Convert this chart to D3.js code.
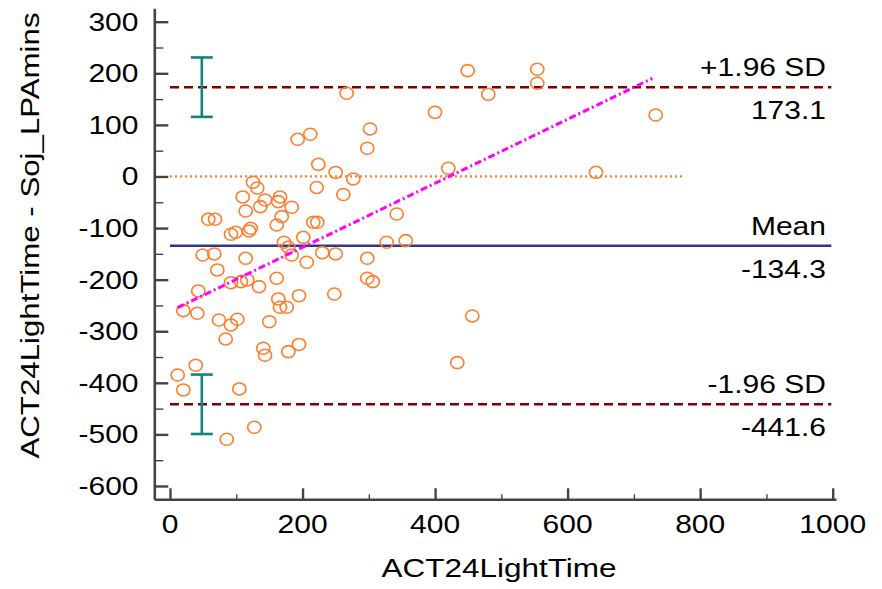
<!DOCTYPE html>
<html>
<head>
<meta charset="utf-8">
<script src="https://cdn.jsdelivr.net/npm/d3@7"></script>
<style>
body { margin: 0; background: #fff; }
svg text { font-family: "Liberation Sans", Arial, sans-serif; fill: #000; }
</style>
</head>
<body>
<svg width="882" height="589"></svg>
<script>
// ACT24LightTime (x) vs difference ACT24LightTime - Soj_LPAmins (y)
var xVals = [266.6, 192.7, 211.7, 223.8, 250.0, 276.6, 125.2, 131.7, 221.4, 261.5,
             109.7, 143.4, 166.0, 163.4, 114.2, 136.3, 183.6, 168.6, 161.0, 57.8,
             67.9, 216.2, 222.3, 92.0, 99.1, 119.2, 121.8, 201.1, 172.0, 178.5,
             49.3, 66.8, 114.2, 183.6, 229.8, 250.0, 206.3, 71.4, 92.0, 107.1,
             116.6, 161.0, 134.3, 42.7, 20.1, 41.2, 163.4, 166.0, 176.1, 194.7,
             247.9, 73.9, 92.0, 101.6, 149.8, 84.0, 140.8, 143.4, 178.5, 194.7,
             38.8, 11.6, 20.1, 104.6, 127.2, 85.6, 449.2, 480.3, 399.9, 301.8,
             297.7, 419.9, 342.1, 327.0, 355.7, 297.7, 297.7, 305.9, 456.2, 433.5,
             554.2, 554.2, 732.9, 642.8];
var yVals = [161.3, 72.1, 81.8, 23.6, 7.8, -4.8, -11.2, -22.3, -21.3, -34.9,
             -39.7, -45.6, -39.7, -48.8, -66.9, -58.5, -59.7, -77.9, -94.0, -83.0,
             -83.0, -88.8, -88.8, -112.0, -108.2, -105.6, -100.4, -117.9, -127.5, -137.2,
             -152.2, -150.2, -158.6, -152.2, -147.7, -150.2, -166.3, -181.2, -205.9, -203.9,
             -200.6, -197.3, -213.6, -221.9, -260.1, -265.2, -237.4, -253.5, -253.5, -231.1,
             -227.8, -278.2, -287.8, -276.8, -281.5, -315.0, -333.0, -346.6, -339.6, -325.6,
             -366.0, -384.8, -413.8, -411.9, -486.1, -509.4, 205.1, 159.3, 124.4, 92.1,
             54.7, 15.9, -72.7, -127.5, -124.4, -158.6, -197.3, -203.9, -270.4, -360.9,
             207.8, 180.7, 119.2, 8.1];

// mean and limits of agreement
var limitNames = ["+1.96 SD", "Mean", "-1.96 SD"];
var limitValues = [173.1, -134.3, -441.6];
var limitEnd = 998;
var ciHalfWidth = 57.6;   // 95% CI of the limits
var ciAtX = 48;

// regression of differences on x
var regIntercept = -261.5, regSlope = 0.6206;
var zeroLineEnd = 775;

var xTicks = [0, 200, 400, 600, 800, 1000];
var xMinor = [100, 300, 500, 700, 900];
var yTicks = [300, 200, 100, 0, -100, -200, -300, -400, -500, -600];
var yMinor = [250, 150, 50, -50, -150, -250, -350, -450, -550];

var svg = d3.select("svg");

var x = d3.scaleLinear().domain([-23.7, 1005]).range([154.3, 836]);
var y = d3.scaleLinear().domain([-625.8, 326]).range([499.3, 8.3]);

var axisCol = "#444";

function text(px, py, txt, anchor, sx) {
    return svg.append("text")
        .attr("transform", "translate(" + px + "," + py + ") scale(" + (sx || 1.2) + ",1)")
        .attr("text-anchor", anchor)
        .attr("font-size", 25)
        .text(txt);
}

/* --------- axes --------- */
var gy = svg.append("g").attr("transform", "translate(" + x.range()[0] + ",0)");
gy.call(d3.axisLeft(y).tickValues(yTicks).tickSizeInner(-14).tickSizeOuter(0).tickFormat(""));
gy.append("g").call(d3.axisLeft(y).tickValues(yMinor).tickSizeInner(-9).tickSizeOuter(0).tickFormat(""))
    .select(".domain").remove();

var gx = svg.append("g").attr("transform", "translate(0," + y.range()[0] + ")");
gx.call(d3.axisBottom(x).tickValues(xTicks).tickSizeInner(-11).tickSizeOuter(0).tickFormat(""));
gx.append("g").call(d3.axisBottom(x).tickValues(xMinor).tickSizeInner(-5).tickSizeOuter(0).tickFormat(""))
    .select(".domain").remove();

svg.selectAll(".domain").attr("stroke", axisCol).attr("stroke-width", 2.6);
svg.selectAll(".tick line").attr("stroke", axisCol).attr("stroke-width", 2.4);
gy.selectAll("g g .tick line").attr("stroke-width", 1.4);
gx.selectAll("g g .tick line").attr("stroke-width", 1.4);

yTicks.forEach(function(t) { text(138.5, y(t) + 9, t, "end"); });
xTicks.forEach(function(t) { text(x(t), 533, t, "middle"); });

text(499, 577, "ACT24LightTime", "middle", 1.26);
svg.append("text")
    .attr("transform", "translate(39,235.5) rotate(-90) scale(1.25,1)")
    .attr("text-anchor", "middle")
    .attr("font-size", 25)
    .text("ACT24LightTime - Soj_LPAmins");

/* --------- reference lines --------- */
var plot = svg.append("g");

plot.append("line")
    .attr("x1", x(0)).attr("x2", x(zeroLineEnd))
    .attr("y1", y(0)).attr("y2", y(0))
    .attr("stroke", "#ff7d2d").attr("stroke-width", 2.2)
    .attr("stroke-dasharray", "2,3");

limitValues.forEach(function(v, i) {
    var isMean = limitNames[i] === "Mean";
    plot.append("line")
        .attr("x1", x(0)).attr("x2", x(limitEnd))
        .attr("y1", y(v)).attr("y2", y(v))
        .attr("stroke", isMean ? "#34348f" : "#7f0000")
        .attr("stroke-width", isMean ? 2.4 : 2.4)
        .attr("stroke-dasharray", isMean ? null : "9,5");
    text(826, y(v) - 11, limitNames[i], "end");
    text(826, y(v) + 32, v.toFixed(1), "end");
});

// CI bars on the limits
[limitValues[0], limitValues[2]].forEach(function(v) {
    var g = plot.append("g").attr("stroke", "#13837f").attr("stroke-width", 2.6);
    g.append("line").attr("x1", x(ciAtX)).attr("x2", x(ciAtX))
        .attr("y1", y(v + ciHalfWidth)).attr("y2", y(v - ciHalfWidth));
    [v + ciHalfWidth, v - ciHalfWidth].forEach(function(c) {
        g.append("line").attr("x1", x(ciAtX) - 11).attr("x2", x(ciAtX) + 11)
            .attr("y1", y(c)).attr("y2", y(c));
    });
});

/* --------- points --------- */
var data = xVals.map(function(d, i) { return {x: d, y: yVals[i]}; });

plot.append("g").selectAll("ellipse")
    .data(data)
    .enter().append("ellipse")
    .attr("cx", function(d) { return x(d.x); })
    .attr("cy", function(d) { return y(d.y); })
    .attr("rx", 6.6).attr("ry", 6)
    .attr("fill", "none")
    .attr("stroke", "#ff7d2d")
    .attr("stroke-width", 1.6);

// regression line over the data range
var xr = d3.extent(xVals);
plot.append("line")
    .attr("x1", x(xr[0])).attr("x2", x(xr[1] - 5))
    .attr("y1", y(regIntercept + regSlope * xr[0]))
    .attr("y2", y(regIntercept + regSlope * (xr[1] - 5)))
    .attr("stroke", "#ff00ff").attr("stroke-width", 3)
    .attr("stroke-dasharray", "7,3,2,3");
</script>
</body>
</html>
